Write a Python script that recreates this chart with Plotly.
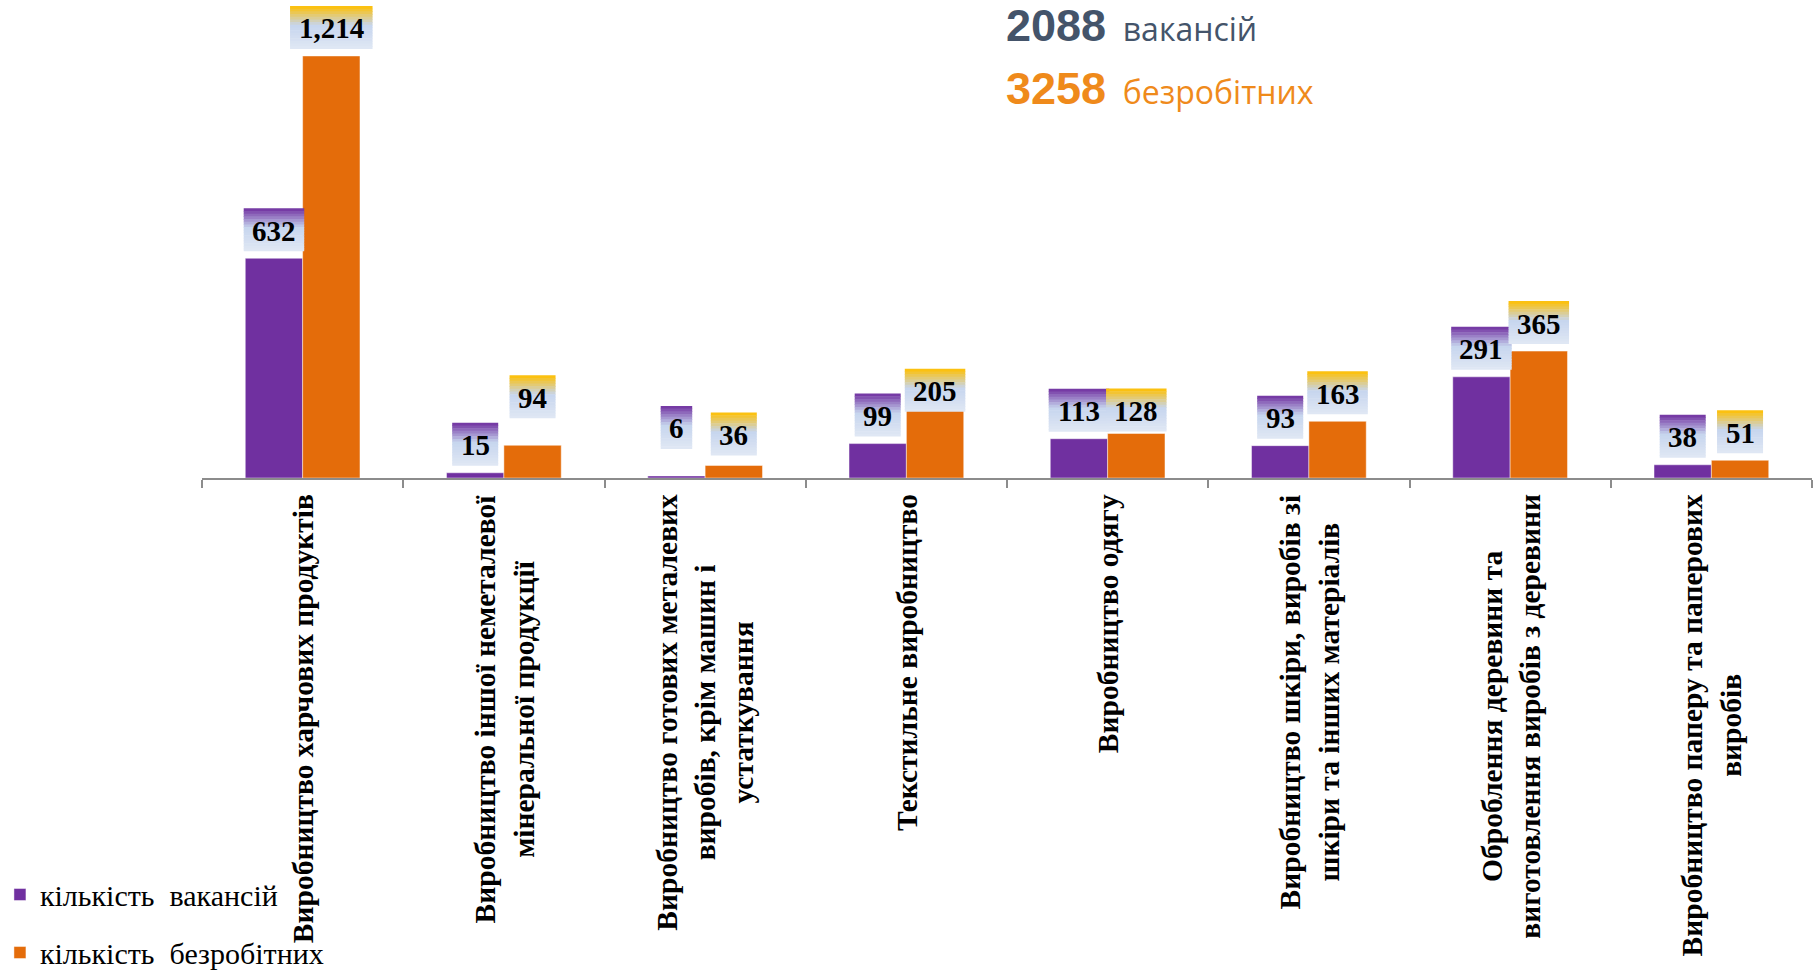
import plotly.graph_objects as go

# ---------------- data ----------------
categories = [
    "Виробництво харчових продуктів",
    "Виробництво іншої неметалевої<br>мінеральної продукції",
    "Виробництво готових металевих<br>виробів, крім машин і<br>устаткування",
    "Текстильне виробництво",
    "Виробництво одягу",
    "Виробництво шкіри, виробів зі<br>шкіри та інших матеріалів",
    "Оброблення деревини та<br>виготовлення виробів з деревини",
    "Виробництво паперу та паперових<br>виробів",
]
vacancies = [632, 15, 6, 99, 113, 93, 291, 38]
unemployed = [1214, 94, 36, 205, 128, 163, 365, 51]
series_names = ["кількість  вакансій", "кількість  безробітних"]
total_vacancies = 2088
total_unemployed = 3258

# ---------------- style ----------------
PURPLE = "#7030a0"
ORANGE = "#e46c0a"
GOLD = "#ffc000"
LIGHT_BLUE = "#c6d5ee"
PALE_BLUE = "#e0e8f4"
SERIF = "Liberation Serif, Times New Roman, serif"
BARGAP = 0.43
LABEL_H = 43          # px height of value-label boxes
LABEL_GAP = 7         # px between bar top and label box
# manual label nudges (px), as placed in the original chart
shift_vac = [0, 0, 20, 0, 0, 0, 0, 0]
shift_unemp = [0, 20, 3, -12, -5, 0, 0, 0]

idx = list(range(len(categories)))

fig = go.Figure()
fig.add_trace(go.Bar(x=idx, y=vacancies, name=series_names[0], legendgroup="a",
                     marker=dict(color=PURPLE, line=dict(color="rgba(255,255,255,0.45)", width=1))))
fig.add_trace(go.Bar(x=idx, y=unemployed, name=series_names[1], legendgroup="b",
                     marker=dict(color=ORANGE, line=dict(color="rgba(255,255,255,0.45)", width=1))))


def hex2rgb(h):
    h = h.lstrip("#")
    return tuple(int(h[i:i + 2], 16) for i in (0, 2, 4))


def mix(c1, c2, t):
    a, b = hex2rgb(c1), hex2rgb(c2)
    return "rgb(%d,%d,%d)" % tuple(round(a[k] + (b[k] - a[k]) * t) for k in range(3))


def grad_color(top, frac):
    # frac: 0 at top, 1 at bottom
    if frac < 0.45:
        return mix(top, LIGHT_BLUE, frac / 0.45)
    return mix(LIGHT_BLUE, PALE_BLUE, (frac - 0.45) / 0.55)


shapes = []
annotations = []
half = (1 - BARGAP) / 4.0
N = 16
for series, top_col, off, shifts in ((vacancies, PURPLE, -half, shift_vac),
                                     (unemployed, GOLD, half, shift_unemp)):
    for i, v in zip(idx, series):
        txt = f"{v:,}"
        nd = sum(ch.isdigit() for ch in txt)
        nc = txt.count(",")
        w = 14.5 * nd + 7.5 * nc + 17
        base = LABEL_GAP + shifts[i]
        for k in range(N):
            y_top = base + LABEL_H - LABEL_H * k / N
            y_bot = base + LABEL_H - LABEL_H * (k + 1) / N - 0.6
            shapes.append(dict(
                type="rect", xref="x", yref="y",
                xsizemode="pixel", ysizemode="pixel",
                xanchor=i + off, yanchor=v,
                x0=-w / 2, x1=w / 2, y0=max(y_bot, base), y1=y_top,
                fillcolor=grad_color(top_col, (k + 0.5) / N),
                line=dict(width=0), layer="above",
            ))
        annotations.append(dict(
            x=i + off, y=v, xref="x", yref="y", text=txt, showarrow=False,
            yshift=base + LABEL_H / 2 - 1, xanchor="center", yanchor="middle",
            font=dict(family=SERIF, size=29, color="black", weight="bold"),
        ))

# category labels (rotated, top-aligned under the axis, centred lines)
for i, c in zip(idx, categories):
    annotations.append(dict(
        x=i, y=0, xref="x", yref="paper", text=c, showarrow=False,
        textangle=-90, xanchor="center", yanchor="top", yshift=-14,
        align="center",
        font=dict(family=SERIF, size=29.5, color="black", weight="bold"),
    ))

# headline totals
annotations.append(dict(
    xref="paper", yref="paper", x=0.498, y=1.0, xanchor="left", yanchor="top",
    yshift=2, showarrow=False, align="left",
    text=(f"<span style='font-family:Liberation Sans;font-weight:bold;font-size:45px'>{total_vacancies}</span>"
          f"<span style='font-family:Open Sans;font-size:32px'>  вакансій</span>"),
    font=dict(color="#44546a", size=32),
))
annotations.append(dict(
    xref="paper", yref="paper", x=0.498, y=1.0 - 65 / 478, xanchor="left", yanchor="top",
    yshift=4, showarrow=False, align="left",
    text=(f"<span style='font-family:Liberation Sans;font-weight:bold;font-size:45px'>{total_unemployed}</span>"
          f"<span style='font-family:Open Sans;font-size:32px'>  безробітних</span>"),
    font=dict(color="#ef8a1b", size=32),
))

fig.update_layout(
    width=1815, height=973,
    margin=dict(l=202, r=3, t=0, b=495, autoexpand=False),
    paper_bgcolor="white", plot_bgcolor="white",
    barmode="group", bargap=BARGAP, bargroupgap=0,
    shapes=shapes, annotations=annotations,
    showlegend=True,
    legend=dict(x=-0.1255, xanchor="left", y=-0.817, yanchor="top",
                font=dict(family=SERIF, size=30, color="black"),
                tracegroupgap=16, bgcolor="rgba(0,0,0,0)",
                itemwidth=30),
    xaxis=dict(
        type="linear", range=[-0.5, len(categories) - 0.5],
        showline=True, linecolor="#8c8c8c", linewidth=2,
        tickvals=[i - 0.5 for i in idx] + [len(categories) - 0.5],
        ticks="outside", ticklen=8, tickcolor="#8c8c8c", tickwidth=2,
        showticklabels=False, showgrid=False, zeroline=False, fixedrange=True,
    ),
    yaxis=dict(range=[0, 1375], visible=False, showgrid=False, zeroline=False),
)

fig.write_html("out.html", config={"displayModeBar": False},
               post_script="document.body.style.margin='0';document.body.style.overflow='hidden';")
